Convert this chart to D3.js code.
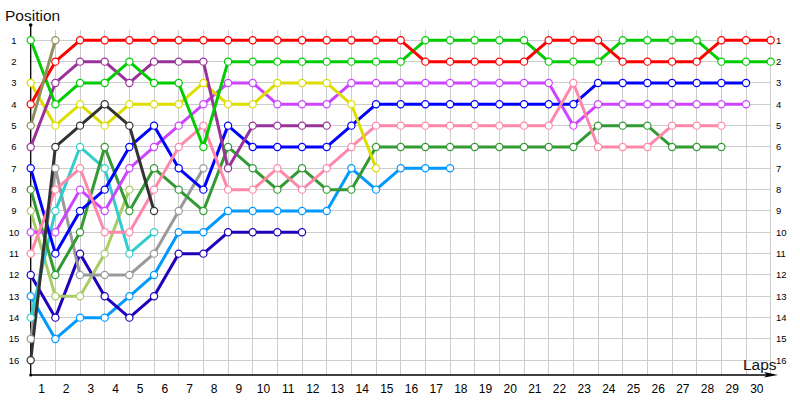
<!DOCTYPE html>
<html><head><meta charset="utf-8">
<script src="https://cdn.jsdelivr.net/npm/d3@7/dist/d3.min.js"></script>
<style>body{margin:0;background:#fff}svg{display:block}</style>
</head><body>
<svg id="c" width="800" height="400"></svg>
<script>
// Laps 0..30 (lap 0 = starting grid)
const laps = d3.range(0, 31);
const positions = d3.range(1, 17);
const lapLabels = d3.range(1, 31);

const red        = [4,2,1,1,1,1,1,1,1,1,1,1,1,1,1,1,2,2,2,2,2,1,1,1,2,2,2,2,1,1,1];
const lime       = [1,4,3,3,2,3,3,6,2,2,2,2,2,2,2,2,1,1,1,1,1,2,2,2,1,1,1,1,2,2,2];
const purple     = [6,3,2,2,3,2,2,2,7,5,5,5,5];
const yellow     = [3,5,4,5,4,4,4,3,4,4,3,3,3,4,7];
const olive      = [5,1];
const darkgray   = [16,6,5,4,5,9];
const blue       = [7,11,9,8,6,5,7,8,5,6,6,6,6,5,4,4,4,4,4,4,4,4,4,3,3,3,3,3,3,3];
const violet     = [10,10,8,9,7,6,5,4,3,3,4,4,4,3,3,3,3,3,3,3,3,3,5,4,4,4,4,4,4,4];
const pink       = [11,8,7,10,10,8,6,5,8,8,7,8,7,6,5,5,5,5,5,5,5,5,3,6,6,6,5,5,5];
const darkgreen  = [8,12,10,6,9,7,8,9,6,7,8,7,8,8,6,6,6,6,6,6,6,6,6,5,5,5,6,6,6];
const cyan       = [14,9,6,7,11,10];
const gray       = [15,7,12,12,12,11,9,7];
const lightgreen = [9,13,13,11,8];
const indigo     = [12,14,11,13,14,13,11,11,10,10,10,10];
const skyblue    = [13,15,14,14,13,12,10,10,9,9,9,9,9,7,8,7,7,7];

const seriesList = [skyblue, indigo, lightgreen, gray, cyan, darkgreen, violet, blue, pink, yellow, purple, lime, red, olive, darkgray];
const seriesColors = ["#0099ff","#2200bb","#aacc66","#999999","#33cccc","#339933","#cc44ff","#0000ff","#ff88aa","#dddd00","#993399","#00cc00","#ff0000","#8f8f5c","#333333"];

const svg = d3.select("#c");
const x = d3.scaleLinear().domain([0, 30]).range([30.7, 770.7]);
const y = d3.scaleLinear().domain([1, 16]).range([40.3, 360.3]);

// grid
const g = svg.append("g").attr("stroke", "#cccccc").attr("stroke-width", 1).attr("shape-rendering", "crispEdges");
g.selectAll("line.v").data(laps.slice(1)).join("line")
  .attr("x1", d => x(d)).attr("x2", d => x(d)).attr("y1", y(0.5)).attr("y2", 375);
g.selectAll("line.h").data(positions).join("line")
  .attr("x1", x(0)).attr("x2", x(30)).attr("y1", d => y(d)).attr("y2", d => y(d));

// axes
svg.append("line").attr("x1", x(0)).attr("x2", x(0)).attr("y1", 25).attr("y2", 375)
  .attr("stroke", "#000").attr("stroke-width", 1.3);
svg.append("line").attr("x1", x(0)).attr("x2", 772).attr("y1", 375).attr("y2", 375)
  .attr("stroke", "#000").attr("stroke-width", 1.3);
svg.append("path").attr("d", "M764,372 L778,375 L764,377.5 L767,375 Z").attr("fill", "#000");
svg.append("circle").attr("cx", x(0)).attr("cy", 25).attr("r", 1.8).attr("fill", "#000");
svg.append("circle").attr("cx", x(0)).attr("cy", 375).attr("r", 1.5).attr("fill", "#000");

const font = "'Liberation Sans', Arial, sans-serif";
svg.append("text").attr("x", 5).attr("y", 21).attr("font-family", font).attr("font-size", 15.5).attr("fill", "#111").text("Position");
svg.append("text").attr("x", 743).attr("y", 370).attr("font-family", font).attr("font-size", 15.5).attr("fill", "#111").text("Laps");

svg.selectAll("text.yl").data(positions).join("text")
  .attr("x", 14).attr("y", d => y(d) + 3.5).attr("text-anchor", "middle")
  .attr("font-family", font).attr("font-size", 9.5).attr("fill", "#000").text(d => d);
svg.selectAll("text.yr").data(positions).join("text")
  .attr("x", 776).attr("y", d => y(d) + 3.5).attr("text-anchor", "start")
  .attr("font-family", font).attr("font-size", 9.5).attr("fill", "#000").text(d => d);
svg.selectAll("text.xl").data(lapLabels).join("text")
  .attr("x", d => x(d - 0.5) - 1.5).attr("y", 393).attr("text-anchor", "middle")
  .attr("font-family", font).attr("font-size", 12).attr("fill", "#000").text(d => d);

// lines
const line = d3.line().x((d, i) => x(i)).y(d => y(d));
seriesList.forEach((s, k) => {
  svg.append("path").datum(s).attr("d", line).attr("fill", "none")
    .attr("stroke", seriesColors[k]).attr("stroke-width", 3).attr("stroke-linejoin", "round");
});
seriesList.forEach((s, k) => {
  svg.append("g").selectAll("circle").data(s).join("circle")
    .attr("cx", (d, i) => x(i)).attr("cy", d => y(d)).attr("r", 3.6)
    .attr("fill", "#fff").attr("stroke", seriesColors[k]).attr("stroke-width", 1.2);
});
</script>
</body></html>
